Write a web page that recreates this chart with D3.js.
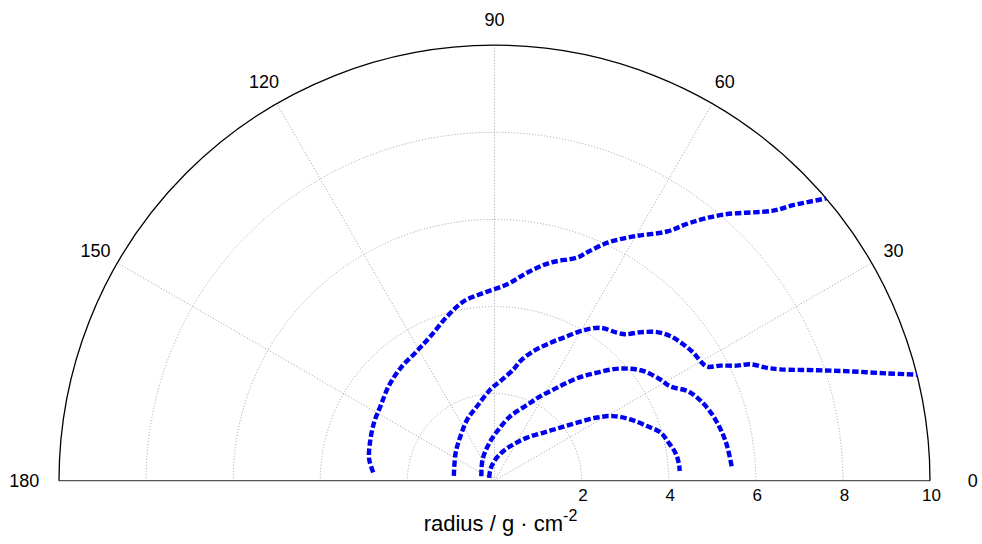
<!doctype html>
<html>
<head>
    <meta charset="UTF-8">
    <script src="https://d3js.org/d3.v7.min.js"></script>
    <title></title>
</head>

<body style="margin:0;background:#fff">

<style>
    text {
        font-family: "Liberation Sans", Arial, sans-serif;
        fill: #000;
    }
</style>

<div id="graph"></div>

<script>
    // data (angle in degrees, radius in g/cm^2)
    var ringTicks = [2, 4, 6, 8, 10];
    var angleTicks = [0, 30, 60, 90, 120, 150, 180];

    var curve1Theta = [176.1, 170.3, 163.0, 154.3, 146.7, 138.1, 129.7, 120.8, 113.8, 106.0, 99.7, 93.3, 86.3, 81.0, 75.6, 69.6, 67.9, 64.6, 60.4, 55.3, 52.8, 49.3, 44.1, 42.7, 40.4];
    var curve1R     = [2.79, 2.92, 2.99, 3.07, 3.13, 3.26, 3.37, 3.47, 3.63, 3.93, 4.18, 4.32, 4.52, 4.84, 5.17, 5.47, 5.66, 6.05, 6.45, 6.96, 7.44, 8.06, 8.91, 9.33, 10.0];

    var curve2Theta = [173.3, 144.1, 127.2, 113.9, 103.0, 92.5, 86.6, 80.2, 77.8, 73.2, 67.9, 64.2, 60.1, 55.3, 50.4, 48.2, 45.5, 42.4, 39.4, 35.8, 32.7, 29.6, 28.2, 27.0, 25.4, 24.5, 22.5, 21.3, 18.9, 17.1, 15.3, 14.1];
    var curve2R     = [0.94, 1.10, 1.29, 1.54, 1.76, 2.10, 2.29, 2.60, 2.81, 3.11, 3.42, 3.65, 3.96, 4.27, 4.41, 4.51, 4.78, 5.06, 5.23, 5.35, 5.43, 5.48, 5.54, 5.82, 6.16, 6.45, 6.77, 7.04, 7.83, 8.54, 9.34, 10.0];

    var curve3Theta = [160.9, 119.2, 97.5, 85.2, 76.1, 70.0, 65.3, 61.5, 57.0, 53.5, 49.6, 46.5, 43.1, 39.9, 36.3, 31.4, 28.2, 25.0, 22.3, 19.0, 15.6, 12.0, 8.5, 3.2];
    var curve3R     = [0.32, 0.56, 0.88, 1.19, 1.53, 1.75, 1.97, 2.21, 2.50, 2.80, 3.16, 3.42, 3.75, 4.01, 4.25, 4.46, 4.58, 4.88, 5.03, 5.16, 5.26, 5.34, 5.40, 5.46];

    var curve4Theta = [151.4, 109.2, 87.3, 72.7, 62.1, 52.9, 44.4, 38.9, 35.1, 31.6, 28.5, 24.3, 19.7, 16.2, 12.4, 8.9, 5.6, 3.0];
    var curve4R     = [0.14, 0.28, 0.49, 0.72, 0.95, 1.24, 1.58, 1.94, 2.32, 2.77, 3.11, 3.42, 3.72, 3.97, 4.09, 4.20, 4.25, 4.26];

    var w = 982, h = 544;
    var cx = 494.5, cy = 480.7, R = 435.5;

    var vis = d3.select("#graph").append("svg")
            .attr("width", w)
            .attr("height", h);

    var r = d3.scaleLinear().domain([0, 10]).range([0, R]);
    var rad = function(deg) { return deg * Math.PI / 180; };
    var px = function(t, v) { return cx + r(v) * Math.cos(rad(t)); };
    var py = function(t, v) { return cy - r(v) * Math.sin(rad(t)); };
    var halfCircle = function(v) {
        return "M" + (-r(v)) + ",0 A" + r(v) + "," + r(v) + " 0 0 1 " + r(v) + ",0";
    };

    var g = vis.append("g").attr("transform", "translate(" + cx + "," + cy + ")");

    // rings
    g.selectAll(".ring")
            .data(ringTicks.filter(function(d) { return d < 10; }))
            .enter()
            .append("path")
            .attr("d", halfCircle)
            .style("fill", "none")
            .style("stroke", "#a0a0a0")
            .style("stroke-width", 1)
            .style("stroke-dasharray", "1,2");

    // spokes
    g.selectAll(".spoke")
            .data(angleTicks.filter(function(d) { return d > 0 && d < 180; }))
            .enter()
            .append("line")
            .attr("x1", 0).attr("y1", 0)
            .attr("x2", function(d) { return r(10) * Math.cos(rad(d)); })
            .attr("y2", function(d) { return -r(10) * Math.sin(rad(d)); })
            .style("stroke", "#a0a0a0")
            .style("stroke-width", 1)
            .style("stroke-dasharray", "1,2");

    // baseline and outer circle
    g.append("line")
            .attr("x1", -r(10)).attr("y1", 0)
            .attr("x2", r(10)).attr("y2", 0)
            .style("stroke", "#555")
            .style("stroke-width", 1.3);

    g.append("path")
            .attr("d", halfCircle(10))
            .style("fill", "none")
            .style("stroke", "#000")
            .style("stroke-width", 1.3);

    // curves
    var curves = [
        [curve1Theta, curve1R],
        [curve2Theta, curve2R],
        [curve3Theta, curve3R],
        [curve4Theta, curve4R]
    ];
    var line = d3.line()
            .x(function(d) { return px(d[0], d[1]); })
            .y(function(d) { return py(d[0], d[1]); })
            .curve(d3.curveCatmullRom.alpha(0.5));

    vis.selectAll(".curve")
            .data(curves)
            .enter()
            .append("path")
            .attr("class", "curve")
            .attr("d", function(c) { return line(d3.zip(c[0], c[1])); })
            .style("fill", "none")
            .style("stroke", "#0000f0")
            .style("stroke-width", 4.4)
            .style("stroke-dasharray", "6.5,2.6");

    // ring labels
    vis.selectAll(".rlab")
            .data(ringTicks)
            .enter()
            .append("text")
            .attr("x", function(d) { return cx + r(d) + 1.5; })
            .attr("y", cy + 20)
            .attr("text-anchor", "middle")
            .style("font-size", "17px")
            .text(function(d) { return d; });

    // angle labels
    var labR = function(d) { return d == 0 ? 1.098 : (d == 180 ? 1.08 : 1.058); };
    vis.selectAll(".alab")
            .data(angleTicks)
            .enter()
            .append("text")
            .attr("x", function(d) { return cx + R * labR(d) * Math.cos(rad(d)); })
            .attr("y", function(d) { return cy - R * labR(d) * Math.sin(rad(d)); })
            .attr("dy", "0.36em")
            .attr("text-anchor", "middle")
            .style("font-size", "18px")
            .text(function(d) { return d; });

    // axis title
    var title = vis.append("text")
            .attr("x", cx + 6)
            .attr("y", 531)
            .attr("text-anchor", "middle")
            .style("font-size", "22px");
    title.append("tspan").text("radius / g \u00b7 cm");
    title.append("tspan").attr("dy", -10).style("font-size", "16px").text("-2");

</script>

</body>
</html>
